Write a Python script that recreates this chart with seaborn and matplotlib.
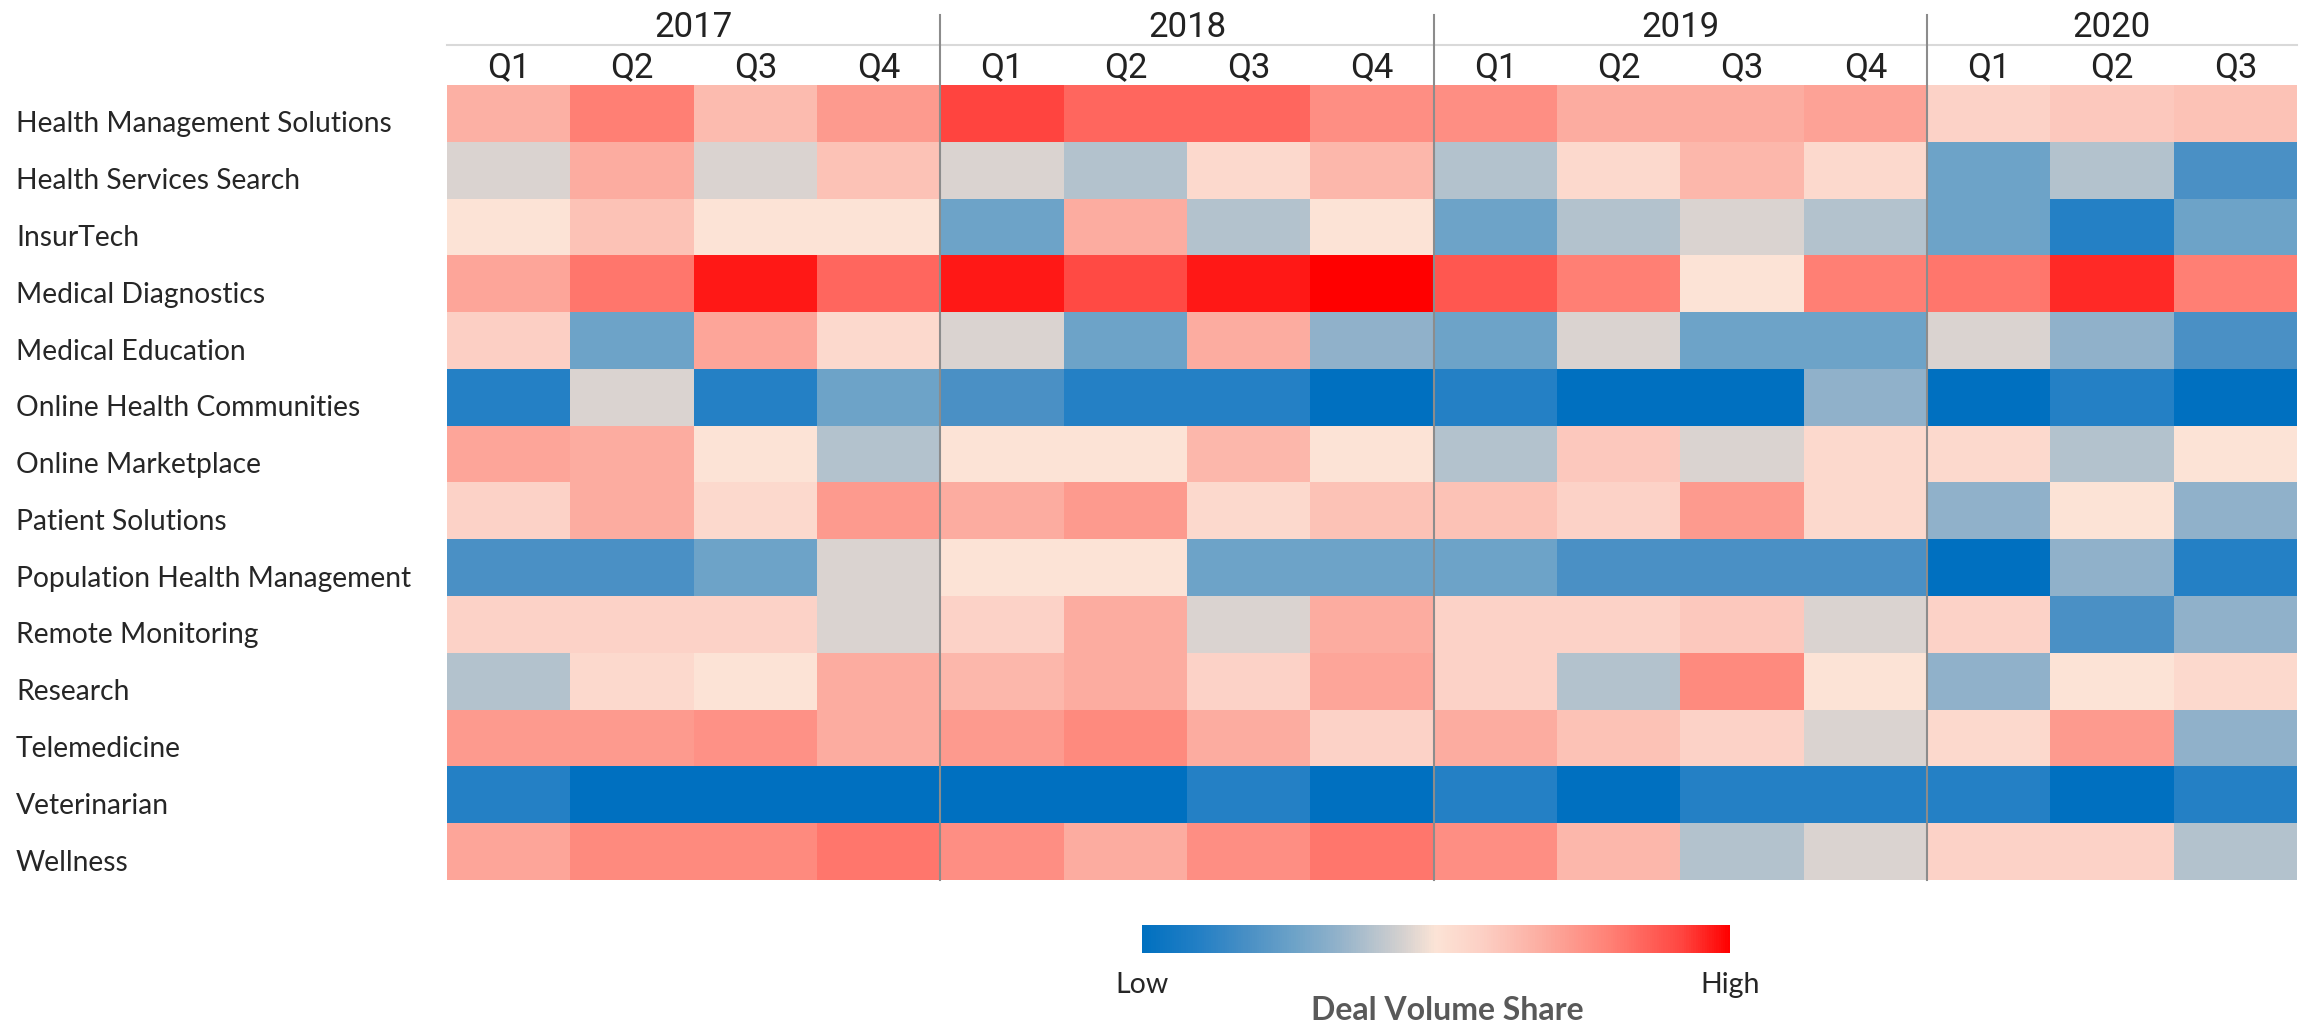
import numpy as np
import pandas as pd
import matplotlib
matplotlib.use('Agg')
import matplotlib.pyplot as plt
import matplotlib.transforms as mtransforms
import seaborn as sns
from matplotlib.colors import LinearSegmentedColormap

# ---- data (relative deal volume share, 0 = low, 1 = high) ----
years = ['2017', '2018', '2019', '2020']
quarters_per_year = [4, 4, 4, 3]
quarter_labels = ['Q1', 'Q2', 'Q3', 'Q4'] * 3 + ['Q1', 'Q2', 'Q3']

sectors = [
    'Health Management Solutions', 'Health Services Search', 'InsurTech',
    'Medical Diagnostics', 'Medical Education', 'Online Health Communities',
    'Online Marketplace', 'Patient Solutions', 'Population Health Management',
    'Remote Monitoring', 'Research', 'Telemedicine', 'Veterinarian', 'Wellness',
]

health_mgmt = [0.67, 0.80, 0.64, 0.73, 0.92, 0.85, 0.85, 0.76, 0.76, 0.68, 0.68, 0.71, 0.57, 0.60, 0.62]
health_search = [0.45, 0.68, 0.45, 0.62, 0.45, 0.39, 0.54, 0.65, 0.39, 0.54, 0.65, 0.54, 0.26, 0.39, 0.18]
insurtech = [0.50, 0.62, 0.50, 0.50, 0.26, 0.68, 0.39, 0.50, 0.26, 0.39, 0.45, 0.39, 0.26, 0.10, 0.26]
med_diag = [0.70, 0.82, 0.97, 0.85, 0.97, 0.91, 0.97, 1.00, 0.88, 0.80, 0.50, 0.80, 0.82, 0.95, 0.80]
med_edu = [0.58, 0.26, 0.70, 0.54, 0.45, 0.26, 0.68, 0.33, 0.26, 0.45, 0.26, 0.26, 0.45, 0.33, 0.18]
online_comm = [0.10, 0.45, 0.10, 0.26, 0.18, 0.10, 0.10, 0.00, 0.10, 0.00, 0.00, 0.33, 0.00, 0.10, 0.00]
online_market = [0.70, 0.68, 0.50, 0.39, 0.50, 0.50, 0.65, 0.50, 0.39, 0.60, 0.45, 0.54, 0.54, 0.39, 0.50]
patient_sol = [0.57, 0.68, 0.54, 0.73, 0.68, 0.73, 0.54, 0.62, 0.62, 0.57, 0.73, 0.54, 0.33, 0.50, 0.33]
pop_health = [0.18, 0.18, 0.26, 0.45, 0.50, 0.50, 0.26, 0.26, 0.26, 0.18, 0.18, 0.18, 0.00, 0.33, 0.10]
remote_mon = [0.57, 0.57, 0.57, 0.45, 0.57, 0.68, 0.45, 0.68, 0.57, 0.57, 0.60, 0.45, 0.57, 0.18, 0.33]
research = [0.39, 0.54, 0.50, 0.68, 0.65, 0.68, 0.57, 0.70, 0.57, 0.39, 0.77, 0.50, 0.33, 0.50, 0.54]
telemedicine = [0.73, 0.73, 0.75, 0.68, 0.73, 0.77, 0.68, 0.57, 0.68, 0.62, 0.57, 0.45, 0.54, 0.73, 0.33]
veterinarian = [0.10, 0.00, 0.00, 0.00, 0.00, 0.00, 0.10, 0.00, 0.10, 0.00, 0.10, 0.10, 0.10, 0.00, 0.10]
wellness = [0.70, 0.77, 0.77, 0.82, 0.76, 0.68, 0.76, 0.82, 0.76, 0.65, 0.39, 0.45, 0.57, 0.57, 0.39]

rows = [health_mgmt, health_search, insurtech, med_diag, med_edu, online_comm,
        online_market, patient_sol, pop_health, remote_mon, research,
        telemedicine, veterinarian, wellness]

col_keys = [f'{y} {q}' for y, n in zip(years, quarters_per_year)
            for q in ['Q1', 'Q2', 'Q3', 'Q4'][:n]]
df = pd.DataFrame(rows, index=sectors, columns=col_keys)

# ---- colour scale: blue -> grey -> peach -> red ----
cmap = LinearSegmentedColormap.from_list('deal_share', [
    (0.00, '#0070C0'),
    (0.10, '#2580C5'),
    (0.18, '#4A90C5'),
    (0.26, '#6EA3C8'),
    (0.33, '#90B1CA'),
    (0.39, '#B4C2CD'),
    (0.45, '#D9D3D0'),
    (0.50, '#FCE4D6'),
    (0.58, '#FCCFC4'),
    (0.68, '#FCADA1'),
    (0.80, '#FF7F74'),
    (0.92, '#FF4540'),
    (1.00, '#FF0000'),
])

# ---- figure ----
W, H = 2305, 1021
fig = plt.figure(figsize=(W / 100, H / 100), dpi=100)
ax_left, ax_top, ax_right, ax_bottom = 447, 85, 2297, 880
ax = fig.add_axes([ax_left / W, 1 - ax_bottom / H,
                   (ax_right - ax_left) / W, (ax_bottom - ax_top) / H])
cax = fig.add_axes([1142 / W, 1 - 953 / H, 588 / W, 28 / H])

sns.heatmap(df, ax=ax, cmap=cmap, vmin=0, vmax=1,
            cbar_ax=cax, cbar_kws={'orientation': 'horizontal', 'ticks': [0, 1]},
            xticklabels=quarter_labels, yticklabels=sectors)

header_font = ['Liberation Sans Narrow', 'Roboto', 'DejaVu Sans']
label_font = ['Lato', 'DejaVu Sans']
ax_h = ax_bottom - ax_top

# quarter labels on top
ax.xaxis.tick_top()
ax.set_xticklabels(quarter_labels, rotation=0, fontsize=25,
                   family=header_font, color='#222222')
ax.tick_params(axis='x', length=0, pad=1)

# sector labels, left aligned at the figure edge, sitting a bit low in the row
ax.set_yticklabels(sectors, rotation=0, ha='left', fontsize=20.3,
                   family=label_font, color='#262626')
ax.tick_params(axis='y', length=0, pad=(ax_left - 16) * 72 / 100)
shift = mtransforms.ScaledTranslation(0, -0.11, fig.dpi_scale_trans)
for lbl in ax.get_yticklabels():
    lbl.set_transform(lbl.get_transform() + shift)
ax.set_xlabel('')
ax.set_ylabel('')

# year labels on a secondary axis above the quarters
year_centers = []
start = 0
for n in quarters_per_year:
    year_centers.append(start + n / 2)
    start += n
sec = ax.secondary_xaxis(1 + (ax_top - 45) / ax_h)
sec.set_xticks(year_centers, labels=years)
sec.tick_params(length=0, pad=1)
for lbl in sec.get_xticklabels():
    lbl.set_fontsize(25)
    lbl.set_family(header_font)
    lbl.set_color('#222222')
for side, spine in sec.spines.items():
    spine.set_color('#d9d9d9')
    spine.set_linewidth(1.5)

# year separators
for b in np.cumsum(quarters_per_year)[:-1]:
    ax.axvline(b, ymin=0, ymax=1 + (ax_top - 15) / ax_h, color='#8c8c8c',
               lw=1.5, clip_on=False)

# colour bar styling
cbar = ax.collections[0].colorbar
cbar.outline.set_visible(False)
cax.set_xticklabels(['Low', 'High'], fontsize=20.5, family=label_font, color='#262626')
cax.tick_params(axis='x', length=0, pad=14)
cax.set_xlabel('Deal Volume Share', fontsize=23, fontweight='bold',
               family=label_font, color='#595959', va='top')
cax.xaxis.set_label_coords(0.52, -1.55)

fig.savefig('out.png', dpi=100)
